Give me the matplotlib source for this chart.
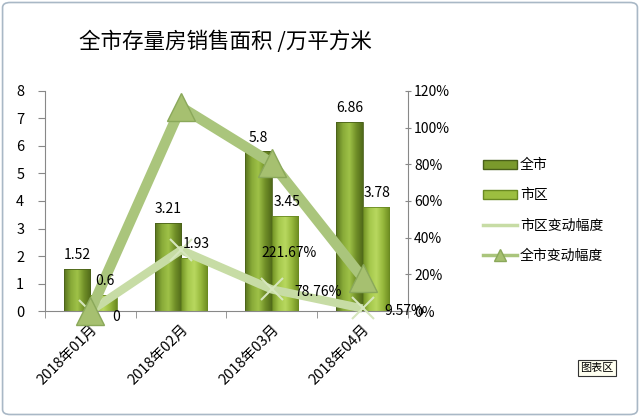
import numpy as np
import matplotlib
matplotlib.use("Agg")
from matplotlib import pyplot as plt
from matplotlib.patches import FancyBboxPatch
from matplotlib.lines import Line2D
from matplotlib.colors import LinearSegmentedColormap
from matplotlib.transforms import ScaledTranslation

plt.rcParams['font.family'] = ['Noto Sans CJK SC', 'DejaVu Sans']

months = ["2018年01月", "2018年02月", "2018年03月", "2018年04月"]
city_total = [1.52, 3.21, 5.8, 6.86]      # 全市
city_urban = [0.6, 1.93, 3.45, 3.78]      # 市区
urban_change = [0.0, 2.2167, 0.7876, 0.0957]   # 市区变动幅度 (drawn on left axis)
urban_change_labels = ["0", "221.67%", "78.76%", "9.57%"]
total_change = [0.0, 1.1118, 0.8069, 0.1828]   # 全市变动幅度 (right axis)

fig = plt.figure(figsize=(6.4, 4.17), dpi=100)
fig.patch.set_facecolor("white")
fig.patches.append(FancyBboxPatch((0.004, 0.006), 0.992, 0.988,
                                  boxstyle="round,pad=0,rounding_size=0.012",
                                  transform=fig.transFigure, fill=False,
                                  edgecolor="#a9b8c6", linewidth=1.2))

ax = fig.add_axes([0.0703, 0.254, 0.567, 0.528])
ax2 = ax.twinx()

x = np.arange(len(months))
w = 0.29

dark = LinearSegmentedColormap.from_list("d", ["#58731e", "#88aa38", "#9fc248", "#719028", "#506a1a"])
light = LinearSegmentedColormap.from_list("l", ["#72922404", "#a5c84c", "#b8d85f", "#96b83c", "#6c8b20"])
light = LinearSegmentedColormap.from_list("l", ["#729224", "#a5c84c", "#b8d85f", "#96b83c", "#6c8b20"])
grad = np.linspace(0, 1, 64).reshape(1, -1)

def draw_bars(xs, vals, cmap, edge):
    bars = ax.bar(xs, vals, w, color="none", edgecolor=edge, linewidth=0.6, zorder=2)
    for b in bars:
        x0, y0 = b.get_x(), b.get_y()
        im = ax.imshow(grad, cmap=cmap, aspect="auto", zorder=1.9,
                       extent=[x0, x0 + b.get_width(), y0, y0 + b.get_height()])
        im.set_clip_path(b)
    return bars

b1 = draw_bars(x - w / 2, city_total, dark, "#4a611a")
b2 = draw_bars(x + w / 2, city_urban, light, "#6a8a22")

ax.plot(x, urban_change, color="#c7dca5", linewidth=6, marker="x", markersize=16,
        markeredgewidth=1.5, markeredgecolor="#d6e6bd", zorder=4, clip_on=False,
        solid_capstyle="butt")

ax2.plot(x, total_change, color="#aac57c", linewidth=7.5, marker="^", markersize=20,
         markerfacecolor="#a6c070", markeredgecolor="#8aa85a", zorder=4, clip_on=False,
         solid_capstyle="butt")

# data labels go on the top axes so they sit above the lines
for xi, v in zip(x, city_total):
    ax2.text(xi - w / 2, v + 0.25, f"{v:g}", ha="center", va="bottom", fontsize=10,
             zorder=6, transform=ax.transData)
for xi, v in zip(x, city_urban):
    ax2.text(xi + w / 2 + 0.02, v + 0.25, f"{v:g}", ha="center", va="bottom", fontsize=10,
             zorder=6, transform=ax.transData)
label_offsets = [(16, -4), (58, -2), (16, -2), (16, -2)]
for xi, v, s, off in zip(x, urban_change, urban_change_labels, label_offsets):
    ax2.annotate(s, (xi, v), xycoords=ax.transData, xytext=off, textcoords="offset points",
                 ha="left", va="center", fontsize=10, zorder=6)

ax.set_xlim(-0.5, 3.5)
ax.set_ylim(0, 8)
ax2.set_ylim(0, 1.2)
ax.set_yticks(range(0, 9))
ax2.set_yticks(np.arange(0, 1.21, 0.2))
ax2.set_yticklabels([f"{int(round(t * 100))}%" for t in np.arange(0, 1.21, 0.2)])

ax.set_xticks(x)
ax.set_xticklabels(months, rotation=45, ha="right", rotation_mode="anchor", fontsize=10.5)
shift = ScaledTranslation(-9 / 72, -8 / 72, fig.dpi_scale_trans)
for lbl in ax.get_xticklabels():
    lbl.set_transform(lbl.get_transform() + shift)
ax.set_xticks(np.arange(-0.5, 4, 1), minor=True)
ax.tick_params(axis="x", which="major", length=0, pad=8)
ax.tick_params(axis="x", which="minor", length=5, color="#888888", direction="out")
ax.tick_params(axis="y", length=5, color="#888888", labelsize=10.5, pad=10)
ax2.tick_params(axis="y", length=5, color="#888888", labelsize=10, direction="inout", pad=2)

for a in (ax, ax2):
    a.spines["top"].set_visible(False)
    a.spines["left"].set_color("#888888")
    a.spines["right"].set_color("#888888")
    a.spines["bottom"].set_color("#888888")
ax.spines["right"].set_visible(False)
ax2.spines["left"].set_visible(False)
ax2.spines["bottom"].set_visible(False)

fig.text(0.352, 1 - 42 / 417, "全市存量房销售面积 /万平方米", ha="center", va="center", fontsize=15.5)

handles = [
    plt.Rectangle((0, 0), 1, 1, facecolor="#7a9a2c", edgecolor="#4a611a"),
    plt.Rectangle((0, 0), 1, 1, facecolor="#9cbe40", edgecolor="#6a8a22"),
    Line2D([0], [0], color="#c7dca5", linewidth=2.5),
    Line2D([0], [0], color="#aac57c", linewidth=2.5, marker="^", markersize=9,
           markerfacecolor="#a6c070", markeredgecolor="#8aa85a"),
]
fig.legend(handles, ["全市", "市区", "市区变动幅度", "全市变动幅度"],
           loc="upper left", bbox_to_anchor=(470 / 640, 1 - 146 / 417),
           frameon=False, fontsize=10, labelspacing=1.15, handlelength=2.5,
           handleheight=0.6, handletextpad=0.2)

fig.text(597 / 640, 1 - 368 / 417, "图表区", ha="center", va="center", fontsize=8,
         bbox=dict(boxstyle="square,pad=0.25", facecolor="#fffff0", edgecolor="#333333", linewidth=0.8))

fig.savefig("out.png", dpi=100)
